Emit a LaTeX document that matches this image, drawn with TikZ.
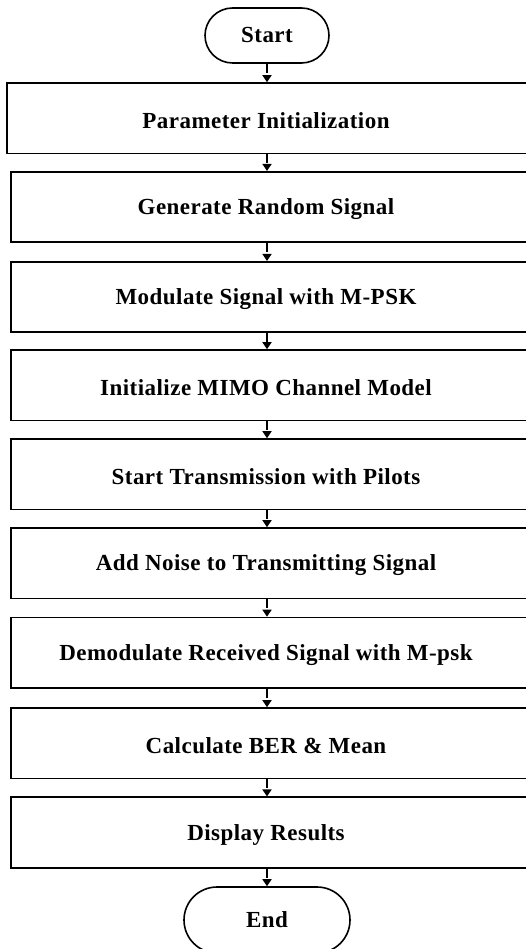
\documentclass[tikz,border=0pt]{standalone}
\usepackage{fontspec}
\setmainfont{Liberation Serif}[LetterSpace=2]
\usetikzlibrary{shapes.misc,arrows.meta}
\begin{document}
\begin{tikzpicture}[x=1pt,y=-1pt,
  every node/.style={font=\fontsize{23}{27}\selectfont\bfseries},
  stepbox/.style={draw,line width=1.6pt,rectangle,minimum height=70.5pt,minimum width=534pt,inner sep=0pt},
  term/.style={draw,line width=1.6pt,rounded rectangle,inner sep=0pt},
  conn/.style={line width=1.6pt,dash pattern=on 9pt off 10pt,-{Triangle[length=7pt,width=9pt]}},
  steptext/.style={xshift=-12pt,yshift=-2pt}
]
\useasboundingbox (0,0) rectangle (526,949);
\clip (0,0) rectangle (526,949);

\node[term,minimum width=124pt,minimum height=55pt] (start) at (267,35.5) {Start};

\node[stepbox,minimum width=538pt,label={[xshift=-10pt,yshift=-2pt]center:Parameter Initialization}] (b1) at (276,118.25) {};
\node[stepbox,label={[steptext]center:Generate Random Signal}] (b2) at (278,207) {};
\node[stepbox,label={[steptext]center:Modulate Signal with M-PSK}] (b3) at (278,297) {};
\node[stepbox,label={[steptext]center:Initialize MIMO Channel Model}] (b4) at (278,385.25) {};
\node[stepbox,label={[steptext]center:Start Transmission with Pilots}] (b5) at (278,474.25) {};
\node[stepbox,label={[steptext]center:Add Noise to Transmitting Signal}] (b6) at (278,563.25) {};
\node[stepbox,label={[steptext]center:Demodulate Received Signal with M-psk}] (b7) at (278,652.75) {};
\node[stepbox,label={[steptext]center:Calculate BER \& Mean}] (b8) at (278,743.25) {};
\node[stepbox,label={[steptext]center:Display Results}] (b9) at (278,832.5) {};

\node[term,minimum width=166pt,minimum height=66pt] (end) at (267,920) {End};

\draw[conn] (start.south) -- (b1.north -| start);
\foreach \a/\b in {b1/b2,b2/b3,b3/b4,b4/b5,b5/b6,b6/b7,b7/b8,b8/b9}
  \draw[conn] (\a.south -| start) -- (\b.north -| start);
\draw[conn] (b9.south -| start) -- (end.north);
\end{tikzpicture}
\end{document}
